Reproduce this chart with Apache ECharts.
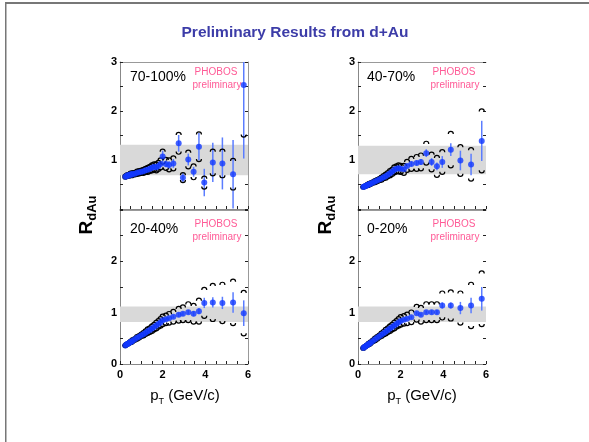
<!DOCTYPE html>
<html>
<head>
<meta charset="utf-8">
<script src="https://cdn.jsdelivr.net/npm/echarts@6/dist/echarts.min.js"></script>
<style>
  html, body { margin: 0; padding: 0; background: #fff; }
  #chart { width: 589px; height: 442px; }
</style>
</head>
<body>
<div id="chart"></div>
<script>
// pT bin centres (GeV/c), shared by all four centrality panels
const pt = [0.25, 0.3, 0.35, 0.4, 0.45, 0.5, 0.55, 0.6, 0.7, 0.8, 0.9, 1.0, 1.1, 1.2, 1.3, 1.4, 1.5, 1.6, 1.7, 1.8, 1.9, 2.0, 2.15, 2.3, 2.5, 2.75, 2.95, 3.2, 3.45, 3.7, 3.95, 4.35, 4.8, 5.3, 5.8]

// 70-100%
const r70 = [0.66, 0.67, 0.69, 0.68, 0.70, 0.71, 0.70, 0.72, 0.72, 0.74, 0.75, 0.76, 0.77, 0.79, 0.80, 0.82, 0.84, 0.86, 0.85, 0.88, 0.92, 1.07, 0.92, 0.90, 0.93, 1.34, 0.64, 1.01, 0.76, 1.27, 0.54, 0.95, 0.93, 0.71, 2.53]
const stat70 = [0.02, 0.02, 0.02, 0.02, 0.02, 0.02, 0.02, 0.02, 0.02, 0.02, 0.02, 0.02, 0.03, 0.03, 0.03, 0.03, 0.04, 0.04, 0.04, 0.05, 0.05, 0.12, 0.07, 0.08, 0.09, 0.17, 0.10, 0.12, 0.10, 0.28, 0.28, 0.40, 0.53, 0.70, 1.50]
const sys70 = [0.05, 0.05, 0.05, 0.05, 0.05, 0.06, 0.06, 0.06, 0.06, 0.07, 0.07, 0.07, 0.08, 0.08, 0.09, 0.09, 0.10, 0.10, 0.11, 0.11, 0.12, 0.15, 0.13, 0.14, 0.15, 0.22, 0.10, 0.19, 0.16, 0.30, 0.13, 0.27, 0.29, 0.32, 1.06]

// 40-70%
const r40 = [0.45, 0.46, 0.47, 0.48, 0.49, 0.50, 0.51, 0.52, 0.54, 0.56, 0.58, 0.60, 0.62, 0.65, 0.67, 0.70, 0.73, 0.76, 0.80, 0.82, 0.83, 0.82, 0.81, 0.88, 0.92, 0.94, 0.96, 1.14, 0.96, 0.87, 0.96, 1.21, 0.99, 0.91, 1.39]
const stat40 = [0.01, 0.01, 0.01, 0.01, 0.01, 0.01, 0.01, 0.01, 0.01, 0.01, 0.01, 0.01, 0.02, 0.02, 0.02, 0.02, 0.02, 0.02, 0.03, 0.03, 0.03, 0.03, 0.04, 0.04, 0.05, 0.05, 0.06, 0.08, 0.08, 0.08, 0.12, 0.13, 0.20, 0.22, 0.41]
const sys40 = [0.04, 0.04, 0.04, 0.04, 0.05, 0.05, 0.05, 0.05, 0.05, 0.06, 0.06, 0.06, 0.07, 0.07, 0.08, 0.08, 0.09, 0.09, 0.10, 0.10, 0.11, 0.11, 0.12, 0.13, 0.15, 0.17, 0.18, 0.24, 0.20, 0.22, 0.25, 0.37, 0.32, 0.34, 0.65]

// 20-40%
const r20 = [0.36, 0.38, 0.39, 0.40, 0.42, 0.43, 0.44, 0.46, 0.48, 0.51, 0.53, 0.56, 0.58, 0.61, 0.64, 0.66, 0.69, 0.72, 0.75, 0.78, 0.81, 0.85, 0.87, 0.89, 0.92, 0.96, 0.98, 1.01, 0.98, 1.03, 1.19, 1.20, 1.19, 1.20, 0.99]
const stat20 = [0.01, 0.01, 0.01, 0.01, 0.01, 0.01, 0.01, 0.01, 0.01, 0.01, 0.01, 0.01, 0.02, 0.02, 0.02, 0.02, 0.02, 0.02, 0.02, 0.02, 0.02, 0.03, 0.03, 0.03, 0.03, 0.04, 0.04, 0.04, 0.05, 0.06, 0.10, 0.10, 0.12, 0.20, 0.25]
const sys20 = [0.04, 0.04, 0.04, 0.04, 0.04, 0.05, 0.05, 0.05, 0.05, 0.06, 0.06, 0.06, 0.07, 0.07, 0.08, 0.08, 0.09, 0.09, 0.10, 0.10, 0.11, 0.12, 0.12, 0.13, 0.14, 0.16, 0.17, 0.20, 0.20, 0.25, 0.30, 0.37, 0.40, 0.45, 0.44]

// 0-20%
const r0 = [0.31, 0.33, 0.34, 0.36, 0.37, 0.39, 0.40, 0.42, 0.45, 0.48, 0.51, 0.54, 0.57, 0.60, 0.63, 0.66, 0.69, 0.72, 0.75, 0.78, 0.81, 0.84, 0.86, 0.88, 0.91, 0.99, 0.96, 1.01, 1.01, 1.01, 1.14, 1.14, 1.09, 1.14, 1.27]
const stat0 = [0.01, 0.01, 0.01, 0.01, 0.01, 0.01, 0.01, 0.01, 0.01, 0.01, 0.01, 0.01, 0.02, 0.02, 0.02, 0.02, 0.02, 0.02, 0.02, 0.02, 0.02, 0.03, 0.03, 0.03, 0.03, 0.03, 0.03, 0.03, 0.04, 0.04, 0.06, 0.06, 0.12, 0.15, 0.23]
const sys0 = [0.04, 0.04, 0.04, 0.04, 0.04, 0.05, 0.05, 0.05, 0.05, 0.06, 0.06, 0.06, 0.07, 0.07, 0.08, 0.08, 0.09, 0.09, 0.10, 0.10, 0.11, 0.12, 0.12, 0.13, 0.14, 0.17, 0.18, 0.20, 0.20, 0.20, 0.28, 0.30, 0.33, 0.45, 0.54]

// normalisation uncertainty bands (grey)
const band70 = [0.69, 1.31]
const band40 = [0.71, 1.29]
const band20 = [0.82, 1.12]
const band0 = [0.82, 1.12]

const FONT = '"Liberation Sans", Arial, Helvetica, sans-serif'
const BLUE = '#1238ff'
const ERR = '#5b7dff'

// grid order: top-left, top-right, bottom-left, bottom-right
const panels = [
  { name: '70-100%', r: r70, stat: stat70, sys: sys70, band: band70, grid: { left: 120, top: 62, width: 128, height: 147 }, bottom: false, rightLine: true },
  { name: '40-70%', r: r40, stat: stat40, sys: sys40, band: band40, grid: { left: 358, top: 62, width: 128, height: 147 }, bottom: false, rightLine: false },
  { name: '20-40%', r: r20, stat: stat20, sys: sys20, band: band20, grid: { left: 120, top: 210, width: 128, height: 154 }, bottom: true, rightLine: true },
  { name: '0-20%', r: r0, stat: stat0, sys: sys0, band: band0, grid: { left: 358, top: 210, width: 128, height: 154 }, bottom: true, rightLine: false }
]

const tick = { inside: true, length: 3, lineStyle: { color: '#222' } }
const minor = { show: true, length: 3, lineStyle: { color: '#222' } }

const grid = []
const xAxis = []
const yAxis = []
const series = []

panels.forEach((p, i) => {
  grid.push(p.grid)
  // bottom axis with labels
  xAxis.push({
    type: 'value', gridIndex: i, min: 0, max: 6, interval: 2, position: 'bottom',
    axisLine: { show: true, onZero: false, lineStyle: { color: '#888' } },
    axisTick: tick,
    minorTick: Object.assign({ splitNumber: 4 }, minor),
    axisLabel: { show: p.bottom, margin: 5, fontFamily: FONT, fontWeight: 'bold', fontSize: 11, color: '#000' },
    splitLine: { show: false }
  })
  // top frame line
  xAxis.push({
    type: 'value', gridIndex: i, min: 0, max: 6, position: 'top',
    axisLine: { show: true, onZero: false, lineStyle: { color: '#999' } },
    axisTick: { show: false }, axisLabel: { show: false }, splitLine: { show: false }
  })
  yAxis.push({
    type: 'value', gridIndex: i, min: 0, max: 3, interval: 1, position: 'left',
    axisLine: { show: true, onZero: false, lineStyle: { color: '#888' } },
    axisTick: tick,
    minorTick: Object.assign({ splitNumber: 2 }, minor),
    axisLabel: {
      margin: 3, fontFamily: FONT, fontWeight: 'bold', fontSize: 11, color: '#000',
      formatter: v => (p.bottom ? (v < 3 ? String(v) : '') : (v > 0 ? String(v) : ''))
    },
    splitLine: { show: false }
  })
  yAxis.push({
    type: 'value', gridIndex: i, min: 0, max: 3, interval: 1, position: 'right',
    axisLine: { show: p.rightLine, onZero: false, lineStyle: { color: '#999' } },
    axisTick: tick,
    minorTick: Object.assign({ splitNumber: 2 }, minor),
    axisLabel: { show: false }, splitLine: { show: false }
  })

  // statistical error bars + grey band
  series.push({
    type: 'custom', xAxisIndex: 2 * i, yAxisIndex: 2 * i, clip: true, z: 2, silent: true,
    data: pt.map((x, k) => [x, p.r[k] - p.stat[k], p.r[k] + p.stat[k]]),
    encode: { x: 0, y: [1, 2] },
    renderItem: (params, api) => {
      const a = api.coord([api.value(0), api.value(1)])
      const b = api.coord([api.value(0), api.value(2)])
      return { type: 'line', shape: { x1: a[0], y1: a[1], x2: b[0], y2: b[1] }, style: { stroke: ERR, lineWidth: 1.5 } }
    },
    markArea: {
      silent: true,
      itemStyle: { color: '#d9d9d9' },
      data: [[{ yAxis: p.band[0] }, { yAxis: p.band[1] }]]
    }
  })

  // systematic error brackets
  series.push({
    type: 'custom', xAxisIndex: 2 * i, yAxisIndex: 2 * i, clip: true, z: 3, silent: true,
    data: pt.map((x, k) => [x, p.r[k] + p.sys[k], p.r[k] - p.sys[k]]),
    encode: { x: 0, y: [1, 2] },
    renderItem: (params, api) => {
      const a = api.coord([api.value(0), api.value(1)])
      const b = api.coord([api.value(0), api.value(2)])
      const w = 2.5
      const h = 2.5
      const st = { stroke: '#000', fill: null, lineWidth: 1.2 }
      return {
        type: 'group',
        children: [
          { type: 'bezierCurve', shape: { x1: a[0] - w, y1: a[1] + h, x2: a[0] + w, y2: a[1] + h, cpx1: a[0] - w, cpy1: a[1] - 1, cpx2: a[0] + w, cpy2: a[1] - 1 }, style: st },
          { type: 'bezierCurve', shape: { x1: b[0] - w, y1: b[1] - h, x2: b[0] + w, y2: b[1] - h, cpx1: b[0] - w, cpy1: b[1] + 1, cpx2: b[0] + w, cpy2: b[1] + 1 }, style: st }
        ]
      }
    }
  })

  // data points
  series.push({
    type: 'scatter', xAxisIndex: 2 * i, yAxisIndex: 2 * i, z: 4, silent: true,
    symbol: 'circle', symbolSize: 6,
    itemStyle: { color: BLUE },
    data: pt.map((x, k) => [x, p.r[k]])
  })
})

const graphic = [
  // slide frame
  { type: 'rect', shape: { x: 5, y: 2, width: 584, height: 2 }, style: { fill: '#777' } },
  { type: 'rect', shape: { x: 5, y: 2, width: 1.5, height: 440 }, style: { fill: '#777' } },
  { type: 'text', x: 295, y: 33, style: { text: 'Preliminary Results from d+Au', font: 'bold 15.5px ' + FONT, fill: '#3c3ca8', align: 'center', verticalAlign: 'middle' } }
]

const labelPos = [[130, 77], [367, 77], [130, 229], [367, 229]]
const phobosPos = [[216, 72], [454, 72], [216, 224], [454, 224]]
panels.forEach((p, i) => {
  graphic.push({ type: 'text', x: labelPos[i][0], y: labelPos[i][1], z: 10, style: { text: p.name, font: '14px ' + FONT, fill: '#000', verticalAlign: 'middle' } })
  graphic.push({ type: 'text', x: phobosPos[i][0], y: phobosPos[i][1], z: 10, style: { text: 'PHOBOS', font: '10px ' + FONT, fill: '#ff5a96', align: 'center', verticalAlign: 'middle' } })
  graphic.push({ type: 'text', x: phobosPos[i][0] + 1, y: phobosPos[i][1] + 13, z: 10, style: { text: 'preliminary', font: '10px ' + FONT, fill: '#ff5a96', align: 'center', verticalAlign: 'middle' } })
})

// axis titles
;[[88, 215], [327, 215]].forEach(([x, y]) => {
  graphic.push({
    type: 'text', x: x, y: y, rotation: Math.PI / 2,
    style: {
      text: '{r|R}{s|dAu}', align: 'center', verticalAlign: 'middle',
      rich: {
        r: { fontFamily: FONT, fontWeight: 'bold', fontSize: 19, lineHeight: 22, verticalAlign: 'top', fill: '#000' },
        s: { fontFamily: FONT, fontWeight: 'bold', fontSize: 13, lineHeight: 13, verticalAlign: 'bottom', fill: '#000' }
      }
    }
  })
})
;[[185, 397], [422, 397]].forEach(([x, y]) => {
  graphic.push({
    type: 'text', x: x, y: y,
    style: {
      text: '{p|p}{t|T}{n| (GeV/c)}', align: 'center', verticalAlign: 'middle',
      rich: {
        p: { fontFamily: FONT, fontSize: 15, lineHeight: 18, verticalAlign: 'top', fill: '#000' },
        t: { fontFamily: FONT, fontSize: 9, lineHeight: 9, verticalAlign: 'bottom', fill: '#000' },
        n: { fontFamily: FONT, fontSize: 15, lineHeight: 18, verticalAlign: 'top', fill: '#000' }
      }
    }
  })
})

const chart = echarts.init(document.getElementById('chart'))
chart.setOption({
  animation: false,
  backgroundColor: '#fff',
  grid,
  xAxis,
  yAxis,
  series,
  graphic
})
</script>
</body>
</html>
